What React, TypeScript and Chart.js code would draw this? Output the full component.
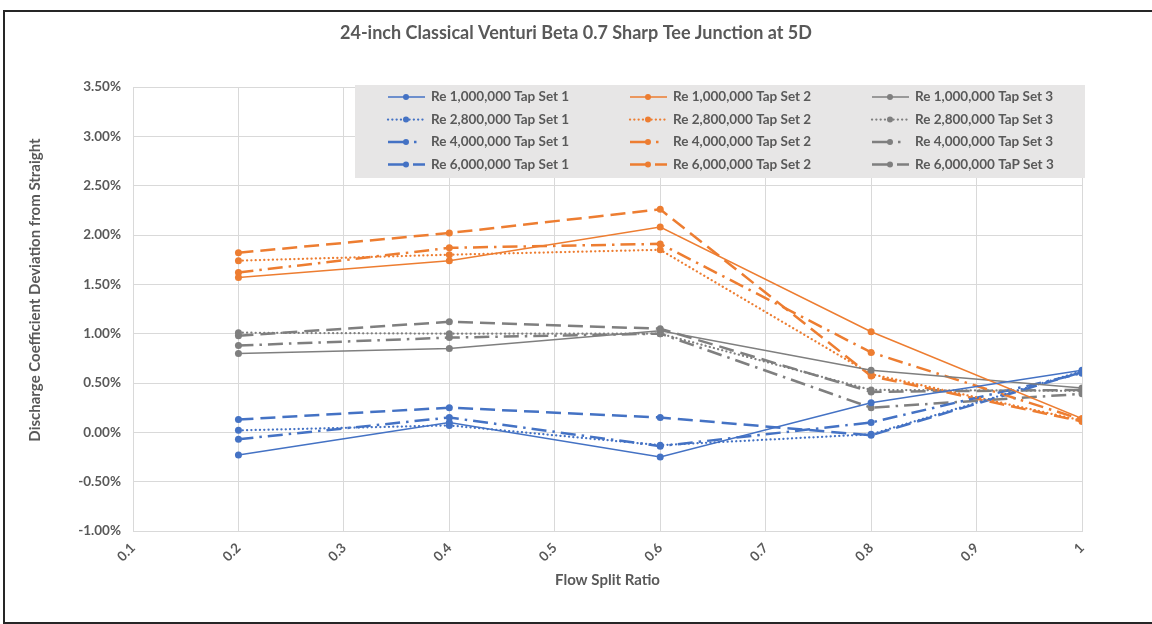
import { useEffect, useRef } from "react";
import { Chart, registerables } from "chart.js";

Chart.register(...registerables);

// Flow split ratios at which the discharge coefficient was measured
const flowSplitRatio = [0.2, 0.4, 0.6, 0.8, 1.0];

// Discharge coefficient deviation from straight pipe (%), Tap Set 1
const re1mTap1 = [-0.23, 0.1, -0.25, 0.3, 0.63];
const re28mTap1 = [0.02, 0.07, -0.13, -0.02, 0.62];
const re4mTap1 = [-0.07, 0.15, -0.14, 0.1, 0.6];
const re6mTap1 = [0.13, 0.25, 0.15, -0.03, 0.61];

// Tap Set 2
const re1mTap2 = [1.57, 1.74, 2.08, 1.02, 0.14];
const re28mTap2 = [1.74, 1.8, 1.85, 0.59, 0.12];
const re4mTap2 = [1.62, 1.87, 1.91, 0.81, 0.13];
const re6mTap2 = [1.82, 2.02, 2.26, 0.57, 0.11];

// Tap Set 3
const re1mTap3 = [0.8, 0.85, 1.03, 0.63, 0.45];
const re28mTap3 = [1.01, 1.0, 1.0, 0.43, 0.42];
const re4mTap3 = [0.88, 0.96, 1.0, 0.25, 0.39];
const re6mTap3 = [0.98, 1.12, 1.05, 0.41, 0.43];

const yTickMin = -1;
const yTickMax = 3.5;
const yTickStep = 0.5;
const xTickMin = 0.1;
const xTickMax = 1;
const xTickStep = 0.1;

const chartTitle = "24-inch Classical Venturi Beta 0.7 Sharp Tee Junction at 5D";
const xAxisTitle = "Flow Split Ratio";
const yAxisTitle = "Discharge Coefficient Deviation from Straight";

const TEXT = "#595959";
const GRID = "#d9d9d9";
const FONT = "Lato, 'Open Sans', sans-serif";

const tapColors = ["#4472C4", "#ED7D31", "#7F7F7F"];

type LineStyle = { width: number; dash: number[]; legendDash: number[]; cap: CanvasLineCap };
const styles: Record<string, LineStyle> = {
  solid: { width: 1.5, dash: [], legendDash: [], cap: "butt" },
  dotted: { width: 2.25, dash: [0.1, 4.2], legendDash: [0.1, 4.2], cap: "round" },
  dashDot: { width: 2.5, dash: [15, 6, 2.5, 6], legendDash: [20, 6, 2.5, 30], cap: "butt" },
  dashed: { width: 2.5, dash: [15, 7], legendDash: [20, 5, 12, 20], cap: "butt" },
};

const rows = [
  { re: "1,000,000", style: "solid", values: [re1mTap1, re1mTap2, re1mTap3] },
  { re: "2,800,000", style: "dotted", values: [re28mTap1, re28mTap2, re28mTap3] },
  { re: "4,000,000", style: "dashDot", values: [re4mTap1, re4mTap2, re4mTap3] },
  { re: "6,000,000", style: "dashed", values: [re6mTap1, re6mTap2, re6mTap3] },
];

const tapNames = ["Tap Set 1", "Tap Set 2", "Tap Set 3"];
const lastTapName = "TaP Set 3";

function buildDatasets() {
  const list: any[] = [];
  rows.forEach((row, r) => {
    row.values.forEach((vals, t) => {
      const st = styles[row.style];
      const tapName = r === rows.length - 1 && t === 2 ? lastTapName : tapNames[t];
      list.push({
        label: `Re ${row.re} ${tapName}`,
        data: flowSplitRatio.map((x, i) => ({ x, y: vals[i] })),
        borderColor: tapColors[t],
        backgroundColor: tapColors[t],
        borderWidth: st.width,
        borderDash: st.dash,
        borderCapStyle: st.cap,
        pointRadius: 3.5,
        pointBorderWidth: 0,
        pointBackgroundColor: tapColors[t],
        tension: 0,
        fill: false,
        styleKey: row.style,
      });
    });
  });
  return list;
}

// Grey legend panel drawn inside the plot area, three columns by four rows
const legendPanel = {
  id: "legendPanel",
  beforeDatasetsDraw(chart: any) {
    const { ctx, chartArea } = chart;
    const x0 = chartArea.left + 222;
    const y0 = chartArea.top - 2;
    const w = 730;
    const h = 93;
    ctx.save();
    ctx.fillStyle = "#e7e6e6";
    ctx.fillRect(x0, y0, w, h);
    chart.data.datasets.forEach((ds: any, i: number) => {
      const row = Math.floor(i / 3);
      const col = i % 3;
      const lx = x0 + 33 + col * 242;
      const ly = y0 + 12 + row * 22.5;
      const st = styles[ds.styleKey];
      ctx.strokeStyle = ds.borderColor;
      ctx.lineWidth = st.width;
      ctx.lineCap = st.cap;
      ctx.setLineDash(st.legendDash);
      ctx.beginPath();
      ctx.moveTo(lx, ly);
      ctx.lineTo(lx + 37, ly);
      ctx.stroke();
      ctx.setLineDash([]);
      ctx.fillStyle = ds.borderColor;
      ctx.beginPath();
      ctx.arc(lx + 18, ly, 3, 0, Math.PI * 2);
      ctx.fill();
      ctx.fillStyle = TEXT;
      ctx.font = `bold 13.5px ${FONT}`;
      ctx.textAlign = "left";
      ctx.textBaseline = "middle";
      ctx.fillText(ds.label, lx + 43, ly);
    });
    ctx.restore();
  },
};

// Chart title centred on the whole canvas, vertical axis title beside the ticks
const titles = {
  id: "titles",
  afterDraw(chart: any) {
    const { ctx, width } = chart;
    ctx.save();
    ctx.fillStyle = TEXT;
    ctx.textAlign = "center";
    ctx.textBaseline = "middle";
    ctx.font = `bold 18px ${FONT}`;
    ctx.fillText(chartTitle, width / 2, 33);
    ctx.translate(35, 290);
    ctx.rotate(-Math.PI / 2);
    ctx.font = `bold 15px ${FONT}`;
    ctx.fillText(yAxisTitle, 0, 0);
    ctx.restore();
  },
};

export default function App() {
  const canvasRef = useRef<HTMLCanvasElement | null>(null);

  useEffect(() => {
    if (!canvasRef.current) return;
    const chart = new Chart(canvasRef.current, {
      type: "line",
      data: { datasets: buildDatasets() },
      options: {
        responsive: false,
        animation: false,
        layout: { padding: { left: 0, right: 70, top: 87, bottom: 0 } },
        plugins: {
          legend: { display: false },
          tooltip: { enabled: false },
          title: { display: false },
        },
        scales: {
          x: {
            type: "linear",
            min: xTickMin,
            max: xTickMax,
            afterFit: (scale: any) => {
              scale.height = 93;
            },
            ticks: {
              stepSize: xTickStep,
              autoSkip: false,
              minRotation: 45,
              maxRotation: 45,
              padding: 9,
              color: TEXT,
              font: { family: FONT, size: 13.5, weight: "bold" },
              callback: (v: any) => String(Number(Number(v).toFixed(1))),
            },
            grid: { color: GRID, lineWidth: 1, drawTicks: false },
            border: { color: GRID },
            title: {
              display: true,
              text: xAxisTitle,
              color: TEXT,
              font: { family: FONT, size: 15, weight: "bold", lineHeight: 1.2 },
              padding: { top: 0, bottom: 35 },
            },
          },
          y: {
            type: "linear",
            min: yTickMin,
            max: yTickMax,
            afterFit: (scale: any) => {
              scale.width = 133;
            },
            ticks: {
              stepSize: yTickStep,
              padding: 12,
              color: TEXT,
              font: { family: FONT, size: 13.5, weight: "bold" },
              callback: (v: any) => Number(v).toFixed(2) + "%",
            },
            grid: { color: GRID, lineWidth: 1, drawTicks: false },
            border: { color: GRID },
          },
        },
      },
      plugins: [legendPanel, titles],
    } as any);
    return () => chart.destroy();
  }, []);

  return (
    <div
      style={{
        position: "absolute",
        left: 0,
        top: 0,
        width: 1152,
        height: 624,
        overflow: "hidden",
        background: "#ffffff",
      }}
    >
      <canvas ref={canvasRef} width={1152} height={624} style={{ display: "block" }} />
      <div
        style={{
          position: "absolute",
          left: 3,
          top: 10,
          width: 1160,
          height: 614,
          boxSizing: "border-box",
          border: "2px solid #262626",
          pointerEvents: "none",
        }}
      />
    </div>
  );
}
